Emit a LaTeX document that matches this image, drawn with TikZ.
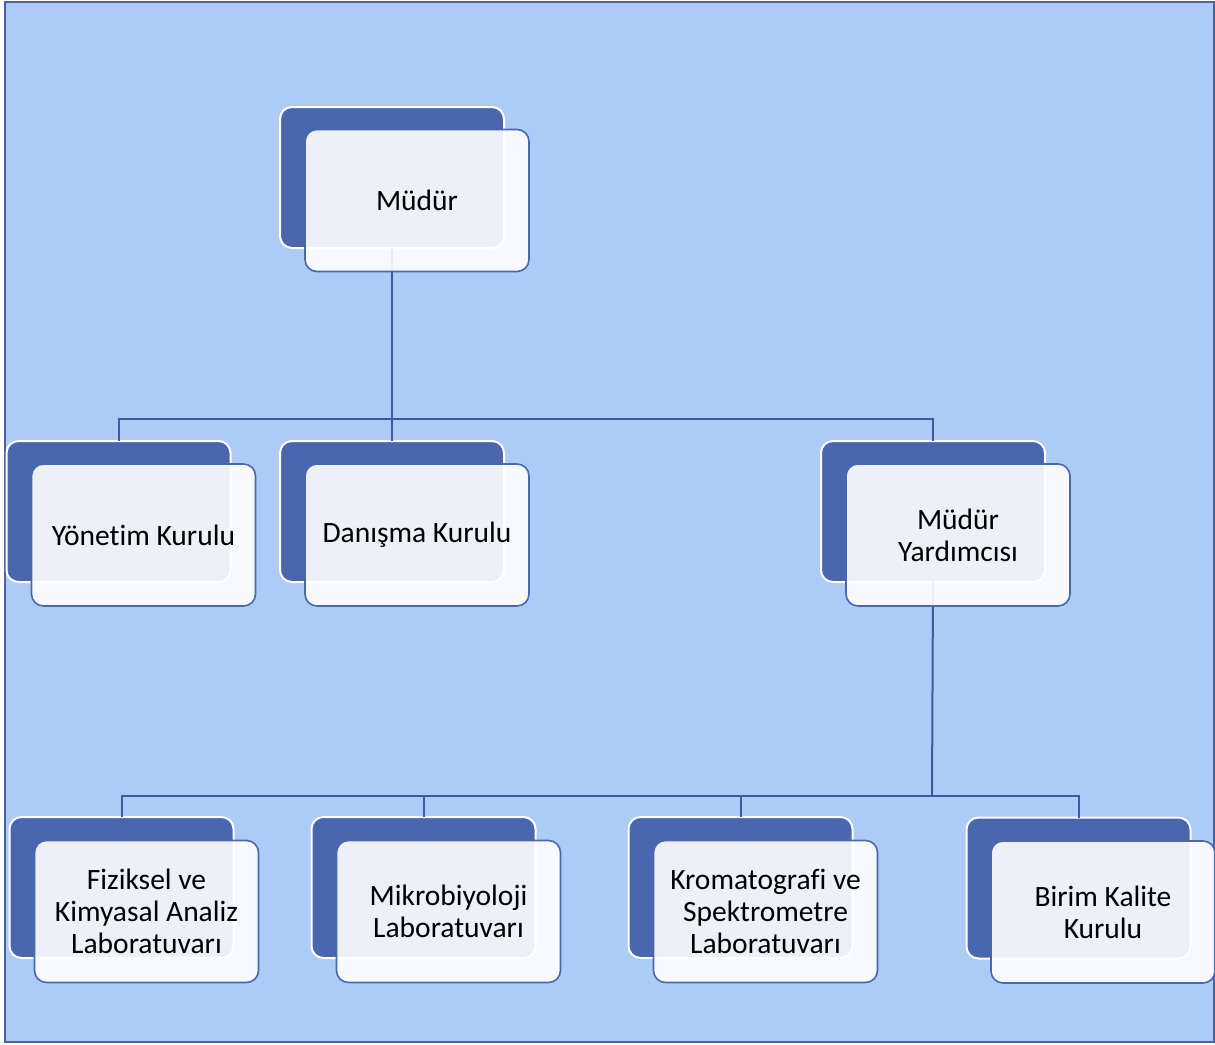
\documentclass[tikz,border=0pt]{standalone}
\usepackage{fontspec}
\setmainfont{Carlito}[Ligatures=NoCommon]
\definecolor{bgblue}{HTML}{ADCBF7}
\definecolor{framec}{HTML}{4F6198}
\definecolor{backc}{HTML}{4966AE}
\definecolor{linec}{HTML}{3F5A9C}
\definecolor{frontb}{HTML}{4A67AE}
\begin{document}
\begin{tikzpicture}[x=1pt,y=-1pt,
  backbox/.style={draw=white, line width=2pt, fill=backc, rounded corners=12pt,
    minimum width=224pt, minimum height=141pt, inner sep=0pt, outer sep=0pt},
  frontbox/.style={draw=frontb, line width=1.6pt, fill=white, fill opacity=0.9, text opacity=1,
    rounded corners=12pt, minimum width=224pt, minimum height=142pt, inner sep=0pt, outer sep=0pt,
    align=center, font=\fontsize{29.5}{32}\selectfont, text=black},
  conn/.style={draw=linec, line width=2pt}]
\useasboundingbox (0,0) rectangle (1215,1044);
\fill[bgblue] (5,2) rectangle (1214,1042);
\draw[framec, line width=2pt] (5,2) rectangle (1214,1042);
% back boxes
\node[backbox] (mud) at (392,177.5) {};
\node[backbox] (yon) at (118.5,511.5) {};
\node[backbox] (dan) at (392,511.5) {};
\node[backbox] (myd) at (933,511.5) {};
\node[backbox] (fiz) at (121.5,887.5) {};
\node[backbox] (mik) at (423.5,887.5) {};
\node[backbox] (kro) at (740.5,887.5) {};
\node[backbox] (bir) at (1078.5,888) {};
% connectors
\coordinate (j1) at (392,419);
\coordinate (j2) at (932,796);
\draw[conn] (mud.south) -- (j1);
\draw[conn] (yon.north) -- (yon.north |- j1) -- (myd.north |- j1) -- (myd.north);
\draw[conn] (dan.north) -- (dan.north |- j1);
\draw[conn] (myd.south) -- (j2);
\draw[conn] (fiz.north) -- (fiz.north |- j2) -- (bir.north |- j2) -- (bir.north);
\draw[conn] (mik.north) -- (mik.north |- j2);
\draw[conn] (kro.north) -- (kro.north |- j2);
% front boxes
\node[frontbox] (mudf) at (417,200.5) {Müdür};
\node[frontbox] (yonf) at (143.5,535) {Yönetim Kurulu};
\node[frontbox] (danf) at (417,535) {Danışma Kurulu};
\node[frontbox] (mydf) at (958,535) {Müdür\\Yardımcısı};
\node[frontbox] (fizf) at (146.5,911.5) {Fiziksel ve\\Kimyasal Analiz\\Laboratuvarı};
\node[frontbox] (mikf) at (448.5,911.5) {Mikrobiyoloji\\Laboratuvarı};
\node[frontbox] (krof) at (765.5,911.5) {Kromatografi ve\\Spektrometre\\Laboratuvarı};
\node[frontbox] (birf) at (1103,912) {Birim Kalite\\Kurulu};
\end{tikzpicture}
\end{document}
